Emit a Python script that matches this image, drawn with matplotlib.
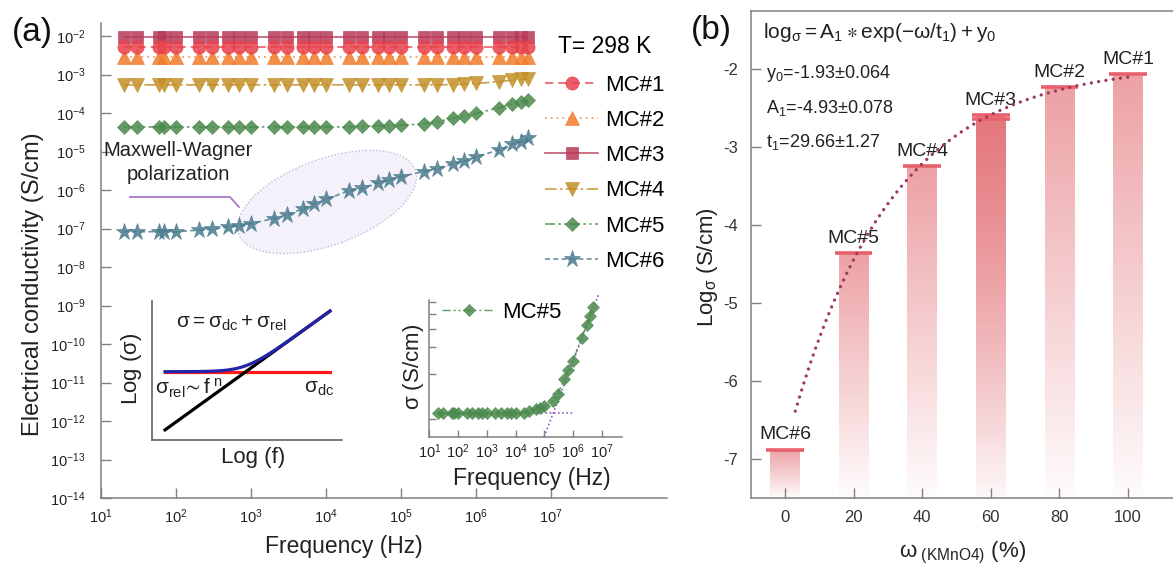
import numpy as np
import matplotlib
matplotlib.use('Agg')
import matplotlib.pyplot as plt
from matplotlib.patches import Ellipse
from matplotlib.transforms import Affine2D
from matplotlib.ticker import NullLocator, FixedLocator, NullFormatter

W, H = 1173, 566
plt.rcParams['font.family'] = ['Liberation Sans', 'DejaVu Sans']
plt.rcParams['mathtext.fontset'] = 'custom'
plt.rcParams['mathtext.rm'] = 'Liberation Sans'
plt.rcParams['mathtext.it'] = 'Liberation Sans:italic'
plt.rcParams['mathtext.bf'] = 'Liberation Sans:bold'
plt.rcParams['mathtext.default'] = 'regular'
plt.rcParams['axes.unicode_minus'] = False

# ---------------- data ----------------
freq = [20, 30, 60, 70, 100, 200, 300, 500, 700, 1e3, 2e3, 3e3, 5e3, 7e3, 1e4,
        2e4, 3e4, 5e4, 7e4, 1e5, 2e5, 3e5, 5e5, 7e5, 1e6, 2e6, 3e6, 4e6, 5e6]

mc1 = [5.3e-3, 5.3e-3, 5.3e-3, 5.3e-3, 5.3e-3, 5.3e-3, 5.3e-3, 5.3e-3, 5.3e-3, 5.3e-3,
       5.3e-3, 5.3e-3, 5.3e-3, 5.3e-3, 5.3e-3, 5.3e-3, 5.3e-3, 5.3e-3, 5.3e-3, 5.3e-3,
       5.3e-3, 5.3e-3, 5.3e-3, 5.3e-3, 5.3e-3, 5.3e-3, 5.3e-3, 5.3e-3, 5.3e-3]
mc2 = [2.8e-3, 2.8e-3, 2.8e-3, 2.8e-3, 2.8e-3, 2.8e-3, 2.8e-3, 2.8e-3, 2.8e-3, 2.8e-3,
       2.8e-3, 2.8e-3, 2.8e-3, 2.8e-3, 2.8e-3, 2.8e-3, 2.8e-3, 2.8e-3, 2.8e-3, 2.8e-3,
       2.8e-3, 2.8e-3, 2.8e-3, 2.8e-3, 2.8e-3, 2.8e-3, 2.8e-3, 2.8e-3, 2.8e-3]
mc3 = [9.2e-3, 9.2e-3, 9.2e-3, 9.2e-3, 9.2e-3, 9.2e-3, 9.2e-3, 9.2e-3, 9.2e-3, 9.2e-3,
       9.2e-3, 9.2e-3, 9.2e-3, 9.2e-3, 9.2e-3, 9.2e-3, 9.2e-3, 9.2e-3, 9.2e-3, 9.2e-3,
       9.2e-3, 9.2e-3, 9.2e-3, 9.2e-3, 9.2e-3, 9.2e-3, 9.2e-3, 9.2e-3, 9.2e-3]
mc4 = [5.4e-4, 5.4e-4, 5.4e-4, 5.4e-4, 5.4e-4, 5.4e-4, 5.4e-4, 5.4e-4, 5.4e-4, 5.4e-4,
       5.4e-4, 5.4e-4, 5.4e-4, 5.4e-4, 5.4e-4, 5.4e-4, 5.4e-4, 5.4e-4, 5.4e-4, 5.4e-4,
       5.4e-4, 5.4e-4, 5.5e-4, 5.6e-4, 5.9e-4, 6.5e-4, 7.2e-4, 7.6e-4, 7.8e-4]
mc5 = [4.37e-5, 4.37e-5, 4.37e-5, 4.37e-5, 4.37e-5, 4.37e-5, 4.37e-5, 4.37e-5, 4.37e-5, 4.37e-5,
       4.37e-5, 4.37e-5, 4.37e-5, 4.37e-5, 4.37e-5, 4.4e-5, 4.52e-5, 4.68e-5, 4.75e-5, 4.84e-5,
       5.25e-5, 5.89e-5, 7.41e-5, 8.51e-5, 9.77e-5, 1.38e-4, 1.70e-4, 1.95e-4, 2.24e-4]
mc6 = [8.3e-8, 8.3e-8, 8.3e-8, 8.3e-8, 8.3e-8, 9.1e-8, 9.5e-8, 1.12e-7, 1.15e-7, 1.35e-7,
       1.82e-7, 2.24e-7, 3.31e-7, 4.37e-7, 5.75e-7, 9.55e-7, 1.10e-6, 1.55e-6, 1.82e-6, 2.24e-6,
       3.02e-6, 3.63e-6, 4.79e-6, 5.62e-6, 7.24e-6, 1.10e-5, 1.55e-5, 1.78e-5, 2.19e-5]
series = [mc1, mc2, mc3, mc4, mc5, mc6]
series_labels = ['MC#1', 'MC#2', 'MC#3', 'MC#4', 'MC#5', 'MC#6']

main_xticks = [1e1, 1e2, 1e3, 1e4, 1e5, 1e6, 1e7]
main_yticks = [1e-14, 1e-13, 1e-12, 1e-11, 1e-10, 1e-9, 1e-8, 1e-7, 1e-6,
               1e-5, 1e-4, 1e-3, 1e-2]
inset_yticks = [4e-5, 8e-5, 1.2e-4, 1.6e-4, 2.0e-4, 2.4e-4]

# inset (MC#5) guide lines
inset_dc = 4.37e-5      # plateau level
inset_fc = 2.05e5       # crossover frequency
inset_n = 0.5           # high-frequency exponent

# schematic inset parameters
sch_dc = 0.49
sch_n = 1.0
sch_decades = 6.0

# panel (b)
omega = [0, 20, 40, 60, 80, 100]
log_sigma = [-6.88, -4.36, -3.24, -2.59, -2.23, -2.06]
extra_omega = [60]
extra_log_sigma = [-2.64]
bar_labels = ['MC#6', 'MC#5', 'MC#4', 'MC#3', 'MC#2', 'MC#1']
fit_y0, fit_A1, fit_t1 = -1.93, -4.93, 29.66

# ---------------- styles ----------------
styles = [
    dict(color='#e8414b', marker='o', ms=9.5, ls=(0, (5, 3))),
    dict(color='#f27b2a', marker='^', ms=10.5, ls=(0, (1, 2.5))),
    dict(color='#b73a58', marker='s', ms=8.5, ls='-'),
    dict(color='#c38f27', marker='v', ms=10.5, ls=(0, (7, 2, 1.5, 2))),
    dict(color='#4b8a4e', marker='D', ms=7.5, ls=(0, (6, 2, 1.5, 2, 1.5, 2))),
    dict(color='#4a7c8e', marker='*', ms=12.5, ls=(0, (3, 2))),
]
GRAY = '#808080'
TXT = '#222222'

fig = plt.figure(figsize=(W / 100, H / 100), dpi=100)


def fbox(l, t, r, b):
    return [l / W, 1 - b / H, (r - l) / W, (b - t) / H]


def fpt(x, y):
    return (x / W, 1 - y / H)


# ---------------- panel (a) ----------------
ax = fig.add_axes(fbox(101, 23, 667, 498))
ax.set_xscale('log')
ax.set_yscale('log')
order = [2, 0, 1, 3, 4, 5]
lines = {}
for i in order:
    st = styles[i]
    ln, = ax.plot(freq, series[i], color=st['color'], marker=st['marker'],
                  ms=st['ms'], ls=st['ls'], lw=1.2, alpha=0.85,
                  markeredgewidth=0.5, zorder=3 + (5 - i) * 0.1,
                  label=series_labels[i])
    lines[i] = ln
handles = [lines[i] for i in range(6)]

ax.set_xlim(10, 10 ** 8.547)
ax.set_ylim(1e-14, 10 ** -1.66)
ax.xaxis.set_major_locator(FixedLocator(main_xticks))
ax.yaxis.set_major_locator(FixedLocator(main_yticks))
ax.xaxis.set_minor_locator(NullLocator())
ax.yaxis.set_minor_locator(NullLocator())
ax.tick_params(direction='in', length=7.5, width=1, color=GRAY,
               labelsize=10.5, labelcolor=TXT)
ax.tick_params(axis='y', pad=11)
ax.tick_params(axis='x', pad=6.5)
for s in ['top', 'right']:
    ax.spines[s].set_visible(False)
for s in ['left', 'bottom']:
    ax.spines[s].set_color(GRAY)
    ax.spines[s].set_linewidth(1.1)

# Maxwell-Wagner ellipse and annotation (axes-pixel coordinates)
ax_w_px, ax_h_px = 566, 475
axpx = Affine2D().scale(1 / ax_w_px, 1 / ax_h_px) + ax.transAxes
ax.add_patch(Ellipse((327 - 101, 498 - 202), 2 * 94, 2 * 43, angle=20,
                     transform=axpx, facecolor='#f5f1fa', edgecolor='#c8b6dc',
                     ls=(0, (1, 1.5)), lw=1.0, zorder=1))
ax.plot([130 - 101, 230 - 101, 239 - 101], [498 - 197, 498 - 197, 498 - 207],
        transform=axpx, color='#a679c8', lw=1.3, zorder=2)
ax.text(178 - 101, 498 - 151, 'Maxwell-Wagner', transform=axpx, ha='center',
        va='center', fontsize=14.5, color=TXT)
ax.text(178 - 101, 498 - 175, 'polarization', transform=axpx, ha='center',
        va='center', fontsize=14.5, color=TXT)

fig.text(*fpt(344, 547), 'Frequency (Hz)', ha='center', va='center',
         fontsize=16.5, color=TXT)
fig.text(*fpt(33, 284), 'Electrical conductivity (S/cm)', ha='center',
         va='center', rotation=90, fontsize=17, color=TXT)
fig.text(*fpt(32, 32), '(a)', ha='center', va='center', fontsize=24, color='#111')
fig.text(*fpt(711, 31), '(b)', ha='center', va='center', fontsize=24, color='#111')

leg = fig.legend(handles, series_labels, loc='upper left',
                 bbox_to_anchor=fpt(545, 35), bbox_transform=fig.transFigure,
                 title='T= 298 K', title_fontsize=16.5, fontsize=16,
                 frameon=False, handlelength=2.4, handletextpad=0.3,
                 labelspacing=0.64, borderpad=0, borderaxespad=0, numpoints=1)
leg._legend_box.sep = 12

# ---------------- schematic inset ----------------
ax1 = fig.add_axes(fbox(152, 301, 342, 440))
t = np.linspace(0, 1, 200)
rel = sch_n * t
dc = np.full_like(t, sch_dc)
tot = np.log10(10 ** (sch_decades * dc) + 10 ** (sch_decades * rel)) / sch_decades
ax1.plot(t, dc, color='#ff1a1a', lw=2.3, zorder=2)
ax1.plot(t, rel, color='black', lw=2.3, zorder=3)
ax1.plot(t, tot, color='#2424a8', lw=2.3, zorder=4)
ax1.set_xlim(-0.079, 1.073)
ax1.set_ylim(-0.085, 1.085)
ax1.set_xticks([])
ax1.set_yticks([])
for s in ['top', 'right']:
    ax1.spines[s].set_visible(False)
for s in ['left', 'bottom']:
    ax1.spines[s].set_color('#555555')
    ax1.spines[s].set_linewidth(1.1)
ax1.patch.set_alpha(0)
fig.text(*fpt(176, 323), r'$\sigma = \sigma_{dc} + \sigma_{rel}$',
         ha='left', va='center', fontsize=15, color=TXT)
fig.text(*fpt(155, 388), r'$\sigma_{rel}\!\sim f^{\ n}$', ha='left',
         va='center', fontsize=15, color=TXT)
fig.text(*fpt(304, 388), r'$\sigma_{dc}$', ha='left', va='center',
         fontsize=15, color=TXT)
fig.text(*fpt(253, 458), 'Log (f)', ha='center', va='center', fontsize=16,
         color=TXT)
fig.text(*fpt(132, 369), r'Log ($\sigma$)', ha='center', va='center',
         rotation=90, fontsize=16, color=TXT)

# ---------------- MC#5 inset ----------------
ax2 = fig.add_axes(fbox(429, 300, 622, 437))
ax2.set_xscale('log')
ax2.set_yscale('log')
st = styles[4]
ax2.plot(freq, mc5, color=st['color'], marker=st['marker'], ms=6.5,
         ls=st['ls'], lw=1.0, alpha=0.85, markeredgewidth=0.5, label='MC#5',
         zorder=3)
ax2.plot([freq[0] * 0.65, 1e6], [inset_dc, inset_dc], color='#8b5fc4',
         ls=(0, (1, 1.5)), lw=1.2, zorder=2)
fg = np.array([10 ** 4.994, 10 ** 6.9])
ax2.plot(fg, inset_dc * (fg / inset_fc) ** inset_n, color='#8b5fc4',
         ls=(0, (1, 1.5)), lw=1.2, zorder=2, clip_on=False)
ax2.set_xlim(10 ** 0.985, 10 ** 7.71)
ax2.set_ylim(3.03e-5, 2.48e-4)
ax2.xaxis.set_major_locator(FixedLocator(main_xticks))
ax2.yaxis.set_major_locator(FixedLocator(inset_yticks))
ax2.yaxis.set_major_formatter(NullFormatter())
ax2.xaxis.set_minor_locator(NullLocator())
ax2.yaxis.set_minor_locator(NullLocator())
ax2.tick_params(direction='in', length=5, width=1, color=GRAY,
                labelsize=10.5, labelcolor=TXT, pad=4)
for s in ['top', 'right']:
    ax2.spines[s].set_visible(False)
for s in ['left', 'bottom']:
    ax2.spines[s].set_color(GRAY)
    ax2.spines[s].set_linewidth(1.1)
ax2.patch.set_alpha(0)
ax2.legend(loc='upper left', bbox_to_anchor=fpt(442, 302),
           bbox_transform=fig.transFigure, frameon=False, fontsize=16,
           handlelength=2.4, handletextpad=0.3, borderpad=0, borderaxespad=0,
           numpoints=1)
fig.text(*fpt(532, 478), 'Frequency (Hz)', ha='center', va='center',
         fontsize=16.5, color=TXT)
fig.text(*fpt(414, 367), r'$\sigma$ (S/cm)', ha='center', va='center',
         rotation=90, fontsize=16, color=TXT)

# ---------------- panel (b) ----------------
axb = fig.add_axes(fbox(751, 11, 1173, 498))
ybot = -7.5
bw, cw = 8.6, 11.0
base = (0.87, 0.33, 0.36)


def grad_bar(x, top, alpha_top=0.55):
    bar = axb.bar(x, top - ybot, bottom=ybot, width=bw, color='none',
                  edgecolor='none', zorder=1)[0]
    n = 256
    rgba = np.zeros((n, 1, 4))
    rgba[..., 0] = base[0]
    rgba[..., 1] = base[1]
    rgba[..., 2] = base[2]
    rgba[:, 0, 3] = np.linspace(0.02, alpha_top, n)
    im = axb.imshow(rgba, extent=(x - bw / 2, x + bw / 2, ybot, top),
                    origin='lower', aspect='auto', interpolation='bilinear',
                    zorder=1)
    im.set_clip_path(bar)


for x, v in zip(omega, log_sigma):
    grad_bar(x, v)
for x, v in zip(extra_omega, extra_log_sigma):
    grad_bar(x, v)
cap_x = list(omega) + list(extra_omega)
cap_v = list(log_sigma) + list(extra_log_sigma)
axb.hlines(cap_v, np.array(cap_x) - cw / 2, np.array(cap_x) + cw / 2,
           color='#e8606c', lw=2.6, zorder=3)
for x, v, lb in zip(omega, log_sigma, bar_labels):
    axb.annotate(lb, (x, v), xytext=(0, 4.5), textcoords='offset points',
                 ha='center', va='bottom', fontsize=14, color=TXT)

wfit = np.linspace(3, 100, 200)
axb.plot(wfit, fit_A1 * np.exp(-wfit / fit_t1) + fit_y0, color='#9e3a62',
         ls=(0, (0.01, 2.2)), lw=2.4, dash_capstyle='round', zorder=4)

axb.set_xlim(-9.9, 113.1)
axb.set_ylim(-7.5, -1.25)
axb.set_xticks([0, 20, 40, 60, 80, 100])
axb.set_yticks([-7, -6, -5, -4, -3, -2])
axb.tick_params(direction='in', length=7, width=1, color=GRAY, labelsize=12,
                labelcolor='#333333', pad=9)
axb.spines['right'].set_visible(False)
for s in ['top', 'left', 'bottom']:
    axb.spines[s].set_color(GRAY)
    axb.spines[s].set_linewidth(1.1)

fig.text(*fpt(763, 33), r'$log_{\sigma} = A_1\ast exp(-\omega/t_1) + y_0$',
         ha='left', va='center', fontsize=15, color=TXT)
fig.text(*fpt(766, 74), r'$y_0$=-1.93±0.064', ha='left', va='center',
         fontsize=13, color=TXT)
fig.text(*fpt(766, 108), r'$A_1$=-4.93±0.078', ha='left', va='center',
         fontsize=13, color=TXT)
fig.text(*fpt(766, 142), r'$t_1$=29.66±1.27', ha='left', va='center',
         fontsize=13, color=TXT)
fig.text(*fpt(708, 267), r'$Log_{\sigma}$ (S/cm)', ha='center', va='center',
         rotation=90, fontsize=16, color=TXT)
fig.text(*fpt(963, 553), r'$\omega_{\ (KMnO4)}\ (\%)$', ha='center',
         va='center', fontsize=16, color=TXT)

fig.savefig('out.png', dpi=100)
